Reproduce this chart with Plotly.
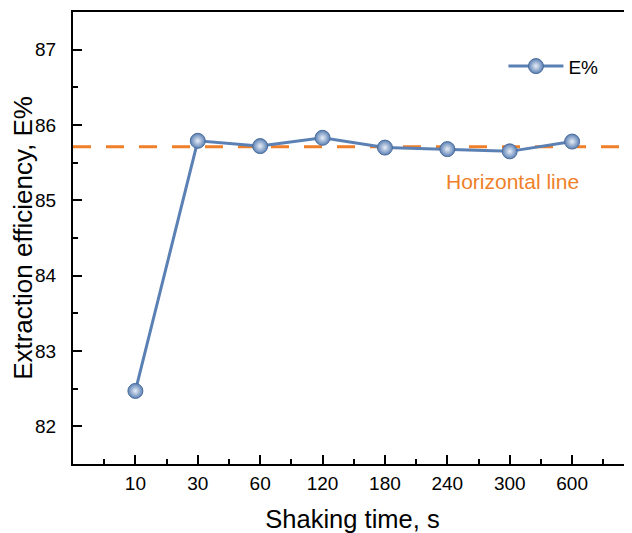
import plotly.graph_objects as go

times = ["10", "30", "60", "120", "180", "240", "300", "600"]
efficiency = [82.47, 85.79, 85.72, 85.83, 85.70, 85.68, 85.65, 85.78]
hline_value = 85.71
series_name = "E%"
hline_label = "Horizontal line"

blue = "#5b80b4"
orange = "#f07f2a"
font_family = "Liberation Sans, Arial, sans-serif"

xpos = list(range(len(times)))

fig = go.Figure()
fig.add_trace(go.Scatter(
    x=xpos, y=efficiency, name=series_name, mode="lines+markers",
    line=dict(color=blue, width=3),
    marker=dict(size=15, color=blue, line=dict(color="#4a6c9c", width=1),
                gradient=dict(type="radial", color="#e8eef7")),
))

fig.add_shape(type="line", xref="paper", x0=0, x1=1, yref="y",
              y0=hline_value, y1=hline_value,
              line=dict(color=orange, width=3, dash="18px,15px"), layer="below")

fig.add_annotation(x=6.05, y=85.25, xref="x", yref="y", text=hline_label,
                   showarrow=False, font=dict(size=21, color=orange, family=font_family))

axis_common = dict(
    showline=True, linecolor="black", linewidth=2,
    ticks="inside", ticklen=9, tickwidth=2, tickcolor="black",
    showgrid=False, zeroline=False, automargin=False,
    tickfont=dict(size=19, color="black", family=font_family),
)

fig.update_xaxes(
    **axis_common,
    range=[-1, 7.96], tickmode="array", tickvals=xpos, ticktext=times,
    minor=dict(ticks="inside", ticklen=5, tickwidth=2, tickcolor="black",
               tick0=-0.5, dtick=1, showgrid=False),
    mirror=True, ticklabelstandoff=1,
    title=dict(text="Shaking time, s", font=dict(size=25.5, color="black", family=font_family), standoff=17),
)
fig.update_yaxes(
    **axis_common,
    range=[81.5, 87.5], tickmode="linear", tick0=82, dtick=1,
    minor=dict(ticks="inside", ticklen=5, tickwidth=2, tickcolor="black",
               dtick=0.5, showgrid=False),
    ticklabelstandoff=11,
    title=dict(text="Extraction efficiency, E%", font=dict(size=26, color="black", family=font_family), standoff=8),
)

# page has an 8px body margin; compensate so the plot lands where the reference has it
fig.update_layout(
    width=624, height=525,
    margin=dict(l=65, r=0, t=4, b=69),
    paper_bgcolor="white", plot_bgcolor="white",
    showlegend=True,
    legend=dict(x=0.77, y=0.88, xanchor="left", yanchor="middle", itemwidth=55,
                bgcolor="rgba(0,0,0,0)", font=dict(size=19, color="black", family=font_family)),
)

fig.write_html("out.html")
